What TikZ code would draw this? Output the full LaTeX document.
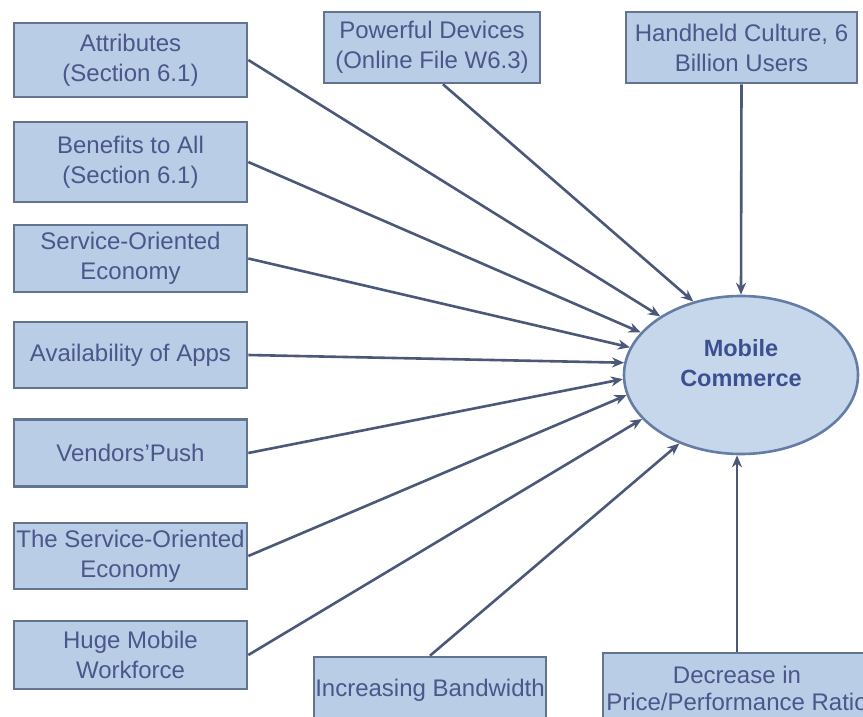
\documentclass[tikz,border=0pt]{standalone}
\usepackage{fontspec}
\setmainfont{Liberation Sans}
\usetikzlibrary{shapes.geometric,arrows.meta}
\definecolor{boxfill}{RGB}{185,205,230}
\definecolor{boxdraw}{RGB}{100,115,145}
\definecolor{txtc}{RGB}{75,86,138}
\definecolor{connc}{RGB}{75,88,120}
\definecolor{ellfill}{RGB}{198,215,236}
\definecolor{elldraw}{RGB}{100,125,165}
\definecolor{elltxt}{RGB}{60,80,145}
\begin{document}
\begin{tikzpicture}[x=1pt,y=-1pt,
  bx/.style={draw=boxdraw, line width=2.6pt, fill=boxfill, text=txtc, inner sep=0pt,
    align=center, font=\fontsize{24}{30}\selectfont},
  ell/.style={ellipse, draw=elldraw, line width=2.6pt, fill=ellfill, inner sep=0pt,
    minimum width=234pt, minimum height=158pt},
  elltext/.style={text=elltxt, align=center, inner sep=0pt, font=\fontsize{23.5}{30}\selectfont\bfseries},
  conn/.style={draw=connc, line width=2.6pt, -{Stealth[length=12pt,width=10pt]}}
]
\fill[white] (0,0) rectangle (863,717);
\useasboundingbox (0,0) rectangle (863,717);

\node[bx, minimum width=233pt, minimum height=74pt] (attr) at (130.5,60) {Attributes\\(Section 6.1)};
\node[bx, minimum width=233pt, minimum height=80pt] (ben) at (130.5,162) {Benefits to All\\(Section 6.1)};
\node[bx, minimum width=233pt, minimum height=67pt] (serv) at (130.5,258.5) {Service-Oriented\\Economy};
\node[bx, minimum width=233pt, minimum height=66pt] (avail) at (130.5,355) {Availability of Apps};
\node[bx, minimum width=233pt, minimum height=67pt] (vend) at (130.5,453) {Vendors'Push};
\node[bx, minimum width=233pt, minimum height=66pt] (theserv) at (130.5,556) {The Service-Oriented\\Economy};
\node[bx, minimum width=233pt, minimum height=68pt] (huge) at (130.5,655) {Huge Mobile\\Workforce};
\node[bx, minimum width=216pt, minimum height=71pt] (pow) at (432,47.5) {Powerful Devices\\(Online File W6.3)};
\node[bx, minimum width=231pt, minimum height=71pt] (hand) at (741.5,47.5) {Handheld Culture, 6\\Billion Users};
\node[bx, minimum width=232pt, minimum height=66pt] (inc) at (430,690) {Increasing Bandwidth};
\node[bx, minimum width=268pt, minimum height=70pt, font=\fontsize{24}{27}\selectfont] (dec) at (737,688) {Decrease in\\Price/Performance Ratio};

\node[ell] (mc) at (741,375) {};
\node[elltext] (mct) at (741,363) {Mobile\\Commerce};

\draw[conn] (attr.east) -- (mc.144.6);
\draw[conn] (ben.east) -- (mc.157.8);
\draw[conn] (serv.east) -- (mc.166.6);
\draw[conn] (avail.east) -- (mc.174.4);
\draw[conn] (vend.east) -- (mc.182.8);
\draw[conn] (theserv.east) -- (mc.190.3);
\draw[conn] (huge.east) -- (mc.204);
\draw[conn] ([xshift=11pt]pow.south) -- (mc.123);
\draw[conn] (inc.north) -- (mc.228);
\draw[conn] (hand.south) -- (mc.north);
\draw[conn] (dec.north) -- (dec.north |- mc.south);
\end{tikzpicture}
\end{document}
